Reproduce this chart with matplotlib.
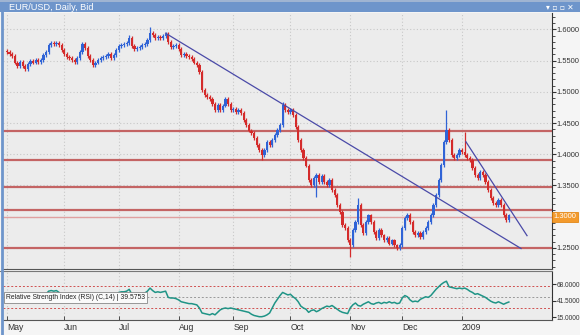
import matplotlib
matplotlib.use("Agg")
import matplotlib.pyplot as plt
import numpy as np
from matplotlib.patches import Rectangle
from matplotlib.lines import Line2D
from matplotlib.ticker import FuncFormatter, FormatStrFormatter, MultipleLocator, FixedLocator

plt.rcParams['font.family'] = ['Liberation Sans', 'DejaVu Sans']

# ---------------- data ----------------
closes = [
    1.564, 1.561, 1.558, 1.547, 1.542, 1.548, 1.542, 1.537, 1.545, 1.550,
    1.547, 1.551, 1.548, 1.551, 1.559, 1.564, 1.575, 1.578, 1.577, 1.578,
    1.575, 1.567, 1.561, 1.556, 1.554, 1.551, 1.548, 1.554, 1.564, 1.577,
    1.570, 1.558, 1.551, 1.543, 1.547, 1.551, 1.554, 1.556, 1.558, 1.561,
    1.554, 1.559, 1.567, 1.574, 1.575, 1.577, 1.578, 1.586, 1.574, 1.569,
    1.570, 1.572, 1.575, 1.577, 1.583, 1.594, 1.591, 1.586, 1.588, 1.586,
    1.590, 1.593, 1.580, 1.572, 1.574, 1.575, 1.569, 1.559, 1.561, 1.558,
    1.556, 1.553, 1.547, 1.543, 1.532, 1.503, 1.495, 1.492, 1.489, 1.481,
    1.471, 1.479, 1.471, 1.478, 1.489, 1.481, 1.471, 1.473, 1.468, 1.471,
    1.466, 1.455, 1.447, 1.438, 1.434, 1.426, 1.415, 1.407, 1.399, 1.407,
    1.420, 1.415, 1.423, 1.431, 1.439, 1.447, 1.479, 1.471, 1.468, 1.471,
    1.463, 1.444, 1.423, 1.407, 1.394, 1.382, 1.359, 1.350, 1.362, 1.367,
    1.356, 1.366, 1.356, 1.351, 1.359, 1.343, 1.335, 1.319, 1.308, 1.287,
    1.282, 1.263, 1.255, 1.279, 1.292, 1.319, 1.287, 1.274, 1.292, 1.302,
    1.292, 1.276, 1.266, 1.279, 1.270, 1.263, 1.266, 1.257, 1.262, 1.254,
    1.250, 1.255, 1.282, 1.298, 1.303, 1.292, 1.276, 1.270, 1.274, 1.268,
    1.276, 1.282, 1.292, 1.303, 1.319, 1.335, 1.359, 1.383, 1.420, 1.439,
    1.423, 1.399, 1.394, 1.399, 1.407, 1.404, 1.399, 1.394, 1.391, 1.378,
    1.367, 1.362, 1.372, 1.367, 1.356, 1.343, 1.330, 1.322, 1.319, 1.327,
    1.319, 1.303, 1.295, 1.302,
]
first_open = 1.566
high_spikes = {47: 1.591, 55: 1.604, 106: 1.484, 135: 1.330, 169: 1.471, 176: 1.436}
low_spikes = {98: 1.391, 119: 1.331, 132: 1.235}
wick = 0.003

rsi = [
    45, 44, 42, 41, 40, 42, 40, 39, 41, 44,
    42, 45, 43, 45, 49, 52, 57, 58, 57, 58,
    55, 50, 46, 43, 42, 40, 40, 43, 49, 53,
    50, 44, 40, 39, 40, 42, 44, 45, 47, 49,
    45, 48, 51, 55, 56, 56, 57, 60, 52, 49,
    50, 51, 53, 54, 57, 62, 58, 55, 56, 55,
    56, 57, 47, 46, 46, 45, 43, 40, 39, 38,
    37, 37, 36, 35, 30, 22, 21, 20, 19, 21,
    19, 23, 27, 29, 30, 29, 30, 29, 28, 27,
    26, 25, 24, 23, 20, 18, 17, 16, 16, 17,
    19, 22, 30, 38, 44, 50, 55, 53, 51, 52,
    48, 45, 40, 33, 30, 28, 23, 26, 27, 24,
    26, 29, 31, 33, 32, 34, 31, 28, 25, 23,
    22, 21, 30, 35, 38, 34, 33, 36, 38, 40,
    37, 36, 38, 39, 37, 39, 38, 40, 38, 39,
    37, 38, 46, 50, 48, 43, 40, 41, 40, 44,
    46, 48, 47, 50, 55, 60, 64, 68, 71, 73,
    64, 63, 62, 61, 62, 61, 62, 60, 57, 55,
    52, 53, 51, 49, 47, 44, 41, 39, 38, 40,
    38, 36, 38, 39.58,
]
rsi_label = "Relative Strength Index (RSI) (C,14) | 39.5753"

month_labels = ["May", "Jun", "Jul", "Aug", "Sep", "Oct", "Nov", "Dec", "2009"]
month_starts = [0, 22, 43, 66, 87, 109, 132, 152, 175]

hlines = [1.4375, 1.3912, 1.3480, 1.3101, 1.2493]
last_price = 1.3000
trend1_x, trend1_y = [61, 197.7], [1.594, 1.249]
trend2_x, trend2_y = [176.5, 200.0], [1.420, 1.2696]

price_ticks = [1.25, 1.30, 1.35, 1.40, 1.45, 1.50, 1.55, 1.60]
rsi_ticks = [15.0, 41.5, 68.0]
rsi_red_levels = [66, 30]
rsi_grey_level = 48
title = "EUR/USD, Daily, Bid"

# ---------------- figure ----------------
W, H = 580, 335
fig = plt.figure(figsize=(W / 100, H / 100), dpi=100)
fig.patch.set_facecolor('#f5f5f5')

def fx(px):
    return px / W

def fy(py):
    return 1 - py / H

bg = '#ececec'
ax = fig.add_axes([fx(3), fy(269), fx(552) - fx(3), fy(13) - fy(269)])
axr = fig.add_axes([fx(3), fy(320), fx(552) - fx(3), fy(272) - fy(320)], sharex=ax)
for a in (ax, axr):
    a.set_facecolor(bg)
    for s in ('top', 'left'):
        a.spines[s].set_visible(False)
    a.spines['right'].set_color('#333333')
    a.spines['bottom'].set_color('#555555')
    a.yaxis.tick_right()

n = len(closes)
opens = [first_open] + closes[:-1]
up_c, dn_c = '#2f63d6', '#d42b2b'
for i in range(n):
    o, c = opens[i], closes[i]
    col = up_c if c >= o else dn_c
    hi = high_spikes.get(i, max(o, c) + wick)
    lo = low_spikes.get(i, min(o, c) - wick)
    ax.vlines(i, lo, hi, color=col, lw=0.9, zorder=3)
    body = max(abs(c - o), 0.0014)
    ax.bar(i, body, bottom=min(o, c), width=0.85, color=col, lw=0, zorder=4)

# horizontal support/resistance lines
for h in hlines:
    ax.axhline(h, color='#c46464', lw=1.6, zorder=2)
ax.axhline(last_price, color='#e0a0a0', lw=1.0, zorder=2)

# trend lines
ax.plot(trend1_x, trend1_y, color='#4a4aa8', lw=0.9, zorder=5)
ax.plot(trend2_x, trend2_y, color='#4a4aa8', lw=0.9, zorder=5)

xmin, xmax = -1.54, 209.6
ax.set_xlim(xmin, xmax)
ax.set_ylim(1.2162, 1.6264)

# grid
ax.yaxis.set_major_locator(FixedLocator(price_ticks))
ax.yaxis.set_minor_locator(MultipleLocator(0.01))
ax.yaxis.set_major_formatter(
    FuncFormatter(lambda v, p: '' if abs(v - last_price) < 1e-6 else f"{v:.4f}"))
ax.grid(True, which='major', axis='y', color='#c8c8c8', ls=(0, (1, 2)), lw=0.8)
for m in month_starts:
    ax.axvline(m, color='#c8c8c8', ls=(0, (1, 2)), lw=0.8, zorder=1)
    axr.axvline(m, color='#c8c8c8', ls=(0, (1, 2)), lw=0.8, zorder=1)
ax.tick_params(axis='y', which='major', length=3, width=0.8, color='#333333',
               labelsize=5.4, labelcolor='#333333', pad=0.5)
ax.tick_params(axis='y', which='minor', length=2, width=0.6, color='#333333')
ax.tick_params(axis='x', which='both', bottom=False, labelbottom=False)

# last price box
ax.text(1.003, last_price, f"{last_price:.4f}", transform=ax.get_yaxis_transform(),
        ha='left', va='center', fontsize=5.4, color='white', zorder=10, clip_on=False,
        bbox=dict(boxstyle='square,pad=0.2', fc='#f39a2c', ec='#e07b00', lw=0.5))

# RSI panel
axr.plot(np.arange(len(rsi)), rsi, color='#1f9486', lw=1.1, zorder=4)
for lv in rsi_red_levels:
    axr.axhline(lv, color='#d05050', ls=(0, (2, 2)), lw=0.7, zorder=2)
axr.axhline(rsi_grey_level, color='#999999', ls=(0, (2, 2)), lw=0.7, zorder=2)
axr.set_ylim(10.7, 87.8)
axr.yaxis.set_major_locator(FixedLocator(rsi_ticks))
axr.yaxis.set_major_formatter(FormatStrFormatter('%.4f'))
axr.tick_params(axis='y', length=3, width=0.8, color='#333333', labelsize=4.7,
                labelcolor='#333333', pad=0.5)
axr.set_xticks(month_starts)
axr.set_xticklabels(month_labels, ha='left')
axr.tick_params(axis='x', length=3, width=0.6, direction='in', color='#333333',
                labelsize=6.2, labelcolor='#333333', pad=2)
axr.text(0.006, 0.46, rsi_label, transform=axr.transAxes, fontsize=4.9,
         color='#222222', ha='left', va='center', zorder=10,
         bbox=dict(boxstyle='square,pad=0.3', fc='#fafafa', ec='#888888', lw=0.6))

# separator between panels
fig.add_artist(Line2D([fx(0), fx(552)], [fy(270.5), fy(270.5)], color='#777777', lw=0.8))

# title bar and window frame
fig.add_artist(Rectangle((0, fy(12)), 1, 12 / H, transform=fig.transFigure,
                         fc='#6e95cb', ec='none', zorder=0))
fig.add_artist(Rectangle((0, fy(2)), 1, 2 / H, transform=fig.transFigure,
                         fc='#9fb4d2', ec='none', zorder=0))
fig.text(fx(9), fy(7), title, color='white', fontsize=6.6, ha='left', va='center')
fig.text(fx(574), fy(7), "\u25be \u25ab \u25ab \u2715", color='white', fontsize=5.5,
         ha='right', va='center', family='DejaVu Sans')
fig.add_artist(Line2D([fx(1.5), fx(1.5)], [fy(12), fy(335)], color='#6e95cb', lw=2))

fig.savefig('out.png', dpi=100, facecolor=fig.get_facecolor())
